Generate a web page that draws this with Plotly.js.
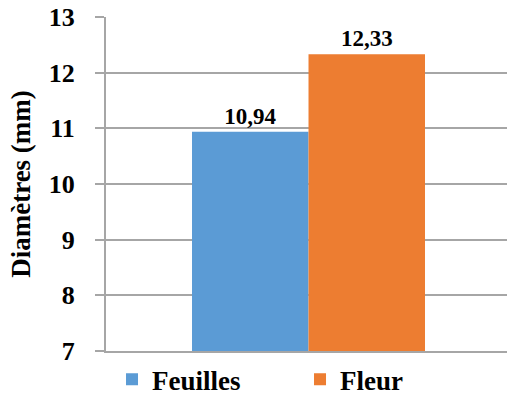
<!DOCTYPE html>
<html>
<head>
<meta charset="utf-8">
<script src="https://cdn.plot.ly/plotly-3.0.1.min.js"></script>
<style>html,body{margin:0;padding:0;background:#fff;}#chart{width:507px;height:397px;}</style>
</head>
<body>
<div id="chart"></div>
<script>
const seriesNames = ["Feuilles", "Fleur"];
const category = [""];
const feuillesValues = [10.94];
const fleurValues = [12.33];
const yTickValues = [7, 8, 9, 10, 11, 12, 13];
const yTickLabels = ["7", "8", "9", "10", "11", "12", "13"];
const yTitle = "Diamètres (mm)";
const colors = ["#5B9BD5", "#ED7D31"];

const FONT = "Liberation Serif";

const traces = [feuillesValues, fleurValues].map((vals, i) => ({
  type: "bar",
  name: "<b>" + seriesNames[i] + "</b>",
  x: category,
  y: vals,
  marker: {color: colors[i], line: {width: 0}},
  texttemplate: "<b>%{y:.2f}</b>",
  textposition: "outside",
  textfont: {family: FONT, size: 23, color: "#000", weight: "bold"},
  cliponaxis: false,
  hoverinfo: "skip"
}));

const layout = {
  width: 507,
  height: 397,
  margin: {l: 106, r: 0, t: 17, b: 46, pad: 0, autoexpand: false},
  paper_bgcolor: "#fff",
  plot_bgcolor: "#fff",
  separators: ", ",
  barmode: "group",
  bargap: 0.419,
  bargroupgap: 0,
  showlegend: true,
  font: {family: FONT, color: "#000", weight: "bold"},
  xaxis: {
    type: "category",
    range: [-0.505, 0.495],
    showticklabels: false,
    showgrid: false,
    showline: true,
    linecolor: "#a6a6a6",
    linewidth: 2,
    ticks: "",
    zeroline: false,
    automargin: false,
    fixedrange: true
  },
  yaxis: {
    range: [7, 13],
    tickvals: yTickValues,
    ticktext: yTickLabels.map(t => "<b>" + t + "</b>"),
    tickfont: {family: FONT, size: 26, color: "#000", weight: "bold"},
    ticks: "outside",
    ticklen: 9,
    tickwidth: 2,
    tickcolor: "#a6a6a6",
    ticklabelstandoff: 15,
    showgrid: true,
    gridcolor: "#a6a6a6",
    gridwidth: 2,
    showline: true,
    linecolor: "#a6a6a6",
    linewidth: 2,
    zeroline: false,
    automargin: false,
    title: {text: "<b>" + yTitle + "</b>", font: {family: FONT, size: 27, color: "#000", weight: "bold"}, standoff: 10},
    fixedrange: true
  },
  legend: {
    orientation: "h",
    x: 0.015,
    xanchor: "left",
    y: -0.086,
    yanchor: "middle",
    font: {family: FONT, size: 27, color: "#000", weight: "bold"},
    entrywidth: 143,
    itemclick: false
  }
};

Plotly.newPlot("chart", traces, layout, {displayModeBar: false, staticPlot: true});
</script>
</body>
</html>
